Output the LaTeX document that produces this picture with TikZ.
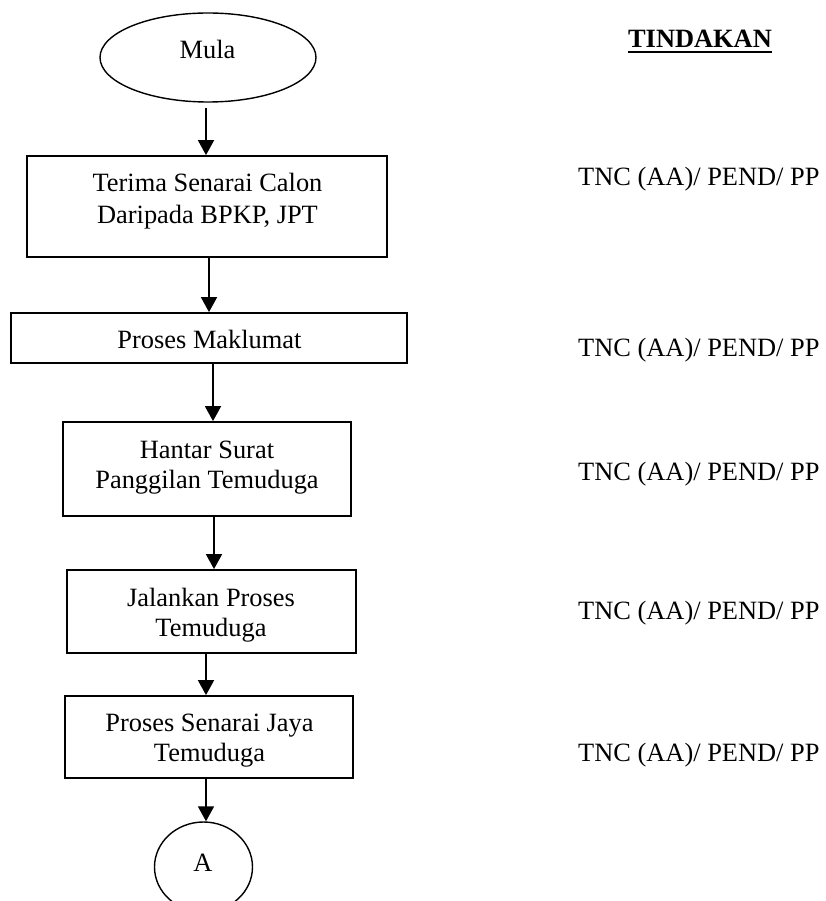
\documentclass[tikz,border=0pt]{standalone}
\usepackage{fontspec}
\setmainfont{Liberation Serif}
\usetikzlibrary{arrows.meta,shapes.geometric}
\begin{document}
\begin{tikzpicture}[x=1pt,y=-1pt,
  every node/.style={font=\fontsize{26.4}{30}\selectfont},
  boxnode/.style={draw, line width=1.8pt, rectangle, inner sep=0pt},
  ovalnode/.style={draw, ellipse, line width=1.4pt, inner sep=0pt},
  txt/.style={align=center, text height=17.5pt, text depth=0pt, inner sep=0pt},
  txttwo/.style={align=center, text height=47.5pt, text depth=0pt, inner sep=0pt},
  arr/.style={line width=1.8pt, -{Triangle[width=16pt,length=15pt]}}]
\useasboundingbox (0,0) rectangle (826,901);

% shapes
\node[ovalnode, minimum width=216pt, minimum height=89pt] (mula) at (208,57.5) {};
\node[boxnode, minimum width=360pt, minimum height=101pt] (b1) at (207,206.5) {};
\node[boxnode, minimum width=396pt, minimum height=50pt] (b2) at (209,338) {};
\node[boxnode, minimum width=288pt, minimum height=94pt] (b3) at (207,469) {};
\node[boxnode, minimum width=289pt, minimum height=83pt] (b4) at (211.5,611.5) {};
\node[boxnode, minimum width=288pt, minimum height=82pt] (b5) at (209,737) {};
\node[ovalnode, minimum width=98pt, minimum height=90pt] (ca) at (203.5,867) {};

% texts
\node[txt] (tmula) at (207.5,50) {Mula};
\node[txttwo, text height=49.5pt, font=\fontsize{26.4}{32}\selectfont] (t1) at (207.5,198.5) {Terima Senarai Calon\\Daripada BPKP, JPT};
\node[txt] (t2) at (209.5,340) {Proses Maklumat};
\node[txttwo] (t3) at (207,465) {Hantar Surat\\Panggilan Temuduga};
\node[txttwo] (t4) at (211,613) {Jalankan Proses\\Temuduga};
\node[txttwo] (t5) at (209.5,737.5) {Proses Senarai Jaya\\Temuduga};
\node[txt] (ta) at (203,863) {A};

% right column
\node[txt, font=\fontsize{26.4}{30}\selectfont\bfseries] (tind) at (700,39) {TINDAKAN};
\draw[line width=2pt] ([yshift=-4pt]tind.south west) -- ([yshift=-4pt]tind.south east);
\node[txt, anchor=west] (r1) at (578,176.5) {TNC (AA)/ PEND/ PP};
\node[txt, anchor=west] (r2) at (578,347.5) {TNC (AA)/ PEND/ PP};
\node[txt, anchor=west] (r3) at (578,472) {TNC (AA)/ PEND/ PP};
\node[txt, anchor=west] (r4) at (578,611) {TNC (AA)/ PEND/ PP};
\node[txt, anchor=west] (r5) at (578,753) {TNC (AA)/ PEND/ PP};

% connectors
\draw[arr] ([xshift=-2pt,yshift=-5pt]mula.south) -- ([xshift=-1pt]b1.north);
\draw[arr] ([xshift=2pt]b1.south) -- (b2.north);
\draw[arr] ([xshift=4pt]b2.south) -- ([xshift=6pt]b3.north);
\draw[arr] ([xshift=7pt]b3.south) -- ([xshift=2.5pt]b4.north);
\draw[arr] ([xshift=-5.5pt]b4.south) -- ([xshift=-3pt]b5.north);
\draw[arr] ([xshift=-3pt]b5.south) -- ([xshift=2.5pt]ca.north);
\end{tikzpicture}
\end{document}
